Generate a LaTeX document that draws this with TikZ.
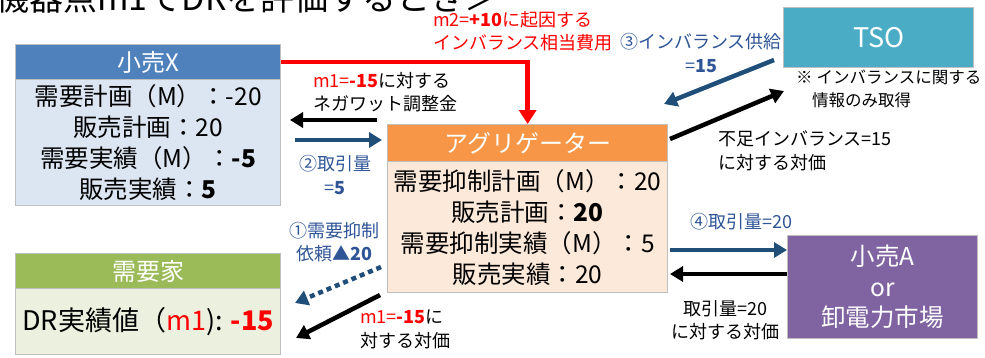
\documentclass[tikz,border=0pt]{standalone}
\usepackage{fontspec}
\setmainfont{Noto Sans CJK JP}
\usetikzlibrary{arrows.meta}
\definecolor{xhead}{HTML}{4F81BD}
\definecolor{xbody}{HTML}{DCE6F2}
\definecolor{aghead}{HTML}{F79646}
\definecolor{agbody}{HTML}{FDE9D9}
\definecolor{dhead}{HTML}{9BBB59}
\definecolor{dbody}{HTML}{EBF1DE}
\definecolor{tsoc}{HTML}{4BACC6}
\definecolor{retc}{HTML}{8064A2}
\definecolor{boxgray}{HTML}{BFBFBF}
\definecolor{navy}{HTML}{1F4E79}
\definecolor{lblue}{HTML}{2F5597}
\definecolor{pred}{HTML}{FF0000}
\newcommand\fsz[2]{\fontsize{#1}{#2}\selectfont}
\tikzset{
  box/.style={draw=boxgray, line width=1.3pt, anchor=north west, inner sep=0pt, align=center},
  hdr/.style={box, text=white, font=\fsz{24}{28}},
  bodytxt/.style={box, font=\fsz{24.5}{31}},
  lbl/.style={inner sep=0pt, font=\fsz{18}{23.5}},
  bigarrow/.style={line width=4.5pt, -{Triangle[length=13pt,width=15pt]}},
}
\begin{document}
\begin{tikzpicture}[x=1pt,y=-1pt]
\clip (0,0) rectangle (985,357);
\useasboundingbox (0,0) rectangle (985,357);
% title (cut at top)
\node[anchor=base east, inner sep=0pt, font=\fsz{34}{34}] (title) at (499,10) {機器点m1でDRを評価するとき＞};

% 小売X
\node[hdr, fill=xhead, minimum width=265pt, minimum height=35pt] (xh) at (15,44) {小売X};
\node[bodytxt, fill=xbody, minimum width=265pt, minimum height=126pt] (xb) at (15,79)
  {需要計画（M）：-20\\販売計画：20\\需要実績（M）：\textbf{-5}\\販売実績：\textbf{5}};

% アグリゲーター
\node[hdr, fill=aghead, minimum width=280pt, minimum height=37pt] (agh) at (387,124) {アグリゲーター};
\node[bodytxt, fill=agbody, minimum width=280pt, minimum height=131pt] (agb) at (387,161)
  {需要抑制計画（M）：20\\販売計画：\textbf{20}\\需要抑制実績（M）：5\\販売実績：20};

% 需要家
\node[hdr, fill=dhead, minimum width=265pt, minimum height=35pt] (dh) at (15,253) {需要家};
\node[bodytxt, fill=dbody, font=\fsz{27}{31}, minimum width=265pt, minimum height=66pt] (db) at (15,288)
  {DR実績値（\textcolor{pred}{m1}): \textcolor{pred}{\textbf{-15}}};

% TSO
\node[box, fill=tsoc, text=white, font=\fsz{27}{30}, minimum width=190pt, minimum height=60pt] (tso) at (783,7) {TSO};
\node[lbl, font=\fsz{16.5}{23}, anchor=north west, align=left] (tsonote) at (796,70) {※\hspace{4pt}インバランスに関する\\\hspace{16pt}情報のみ取得};

% 小売A or 卸電力市場
\node[box, fill=retc, text=white, font=\fsz{24.5}{30.5}, minimum width=190pt, minimum height=103pt] (ret) at (787,235) {小売A\\or\\卸電力市場};

% red arrow
\coordinate (redend) at (agh.north);
\draw[bigarrow, draw=pred, -{Triangle[length=14pt,width=17pt]}] (xh.east) -| (redend);
\node[lbl, anchor=north west, align=left, text=pred] (redlbl) at (433,11) {m2=\textbf{+10}に起因する\\インバランス相当費用};

% negawatt (black, left)
\coordinate (nwA) at (377,120);
\coordinate (nwB) at (290,120);
\draw[bigarrow] (nwA) -- (nwB);
\node[lbl, anchor=north west, align=left] (nwlbl) at (313,72) {\textcolor{pred}{m1=\textbf{-15}}に対する\\ネガワット調整金};

% (2) blue right
\coordinate (t2A) at (295,140);
\coordinate (t2B) at (382,140);
\draw[bigarrow, draw=navy] (t2A) -- (t2B);
\node[lbl, align=center, text=lblue] (t2lbl) at (335,175) {②取引量\\=\textbf{5}};

% (3) TSO -> aggregator
\coordinate (t3A) at (774,60);
\coordinate (t3B) at (664,104);
\draw[bigarrow, draw=navy] (t3A) -- (t3B);
\node[lbl, align=center, text=lblue] (t3lbl) at (701,53) {③インバランス供給\\=\textbf{15}};

% aggregator -> TSO (black)
\coordinate (b3A) at (670,139);
\coordinate (b3B) at (784,91);
\draw[bigarrow] (b3A) -- (b3B);
\node[lbl, anchor=north west, align=left] (b3lbl) at (718,131) {不足インバランス=15\\に対する対価};

% (4) blue right
\coordinate (t4A) at (670,250);
\coordinate (t4B) at (787,250);
\draw[bigarrow, draw=navy] (t4A) -- (t4B);
\node[lbl, text=lblue] (t4lbl) at (741,222) {④取引量=20};

% black left from retailer
\coordinate (b4A) at (787,274);
\coordinate (b4B) at (670,274);
\draw[bigarrow] (b4A) -- (b4B);
\node[lbl, align=center] (b4lbl) at (725,320) {取引量=20\\に対する対価};

% (1) dotted request
\coordinate (t1A) at (381,267);
\coordinate (t1B) at (295,303);
\draw[bigarrow, draw=navy, dash pattern=on 5pt off 4pt] (t1A) -- (t1B);
\node[lbl, align=center, text=lblue] (t1lbl) at (334,242) {①需要抑制\\依頼\textbf{▲20}};

% payment to customer (black)
\coordinate (b1A) at (380,295);
\coordinate (b1B) at (296,338);
\draw[bigarrow] (b1A) -- (b1B);
\node[lbl, anchor=north west, align=left] (b1lbl) at (360,310) {\textcolor{pred}{m1=\textbf{-15}}に\\対する対価};
\end{tikzpicture}
\end{document}
